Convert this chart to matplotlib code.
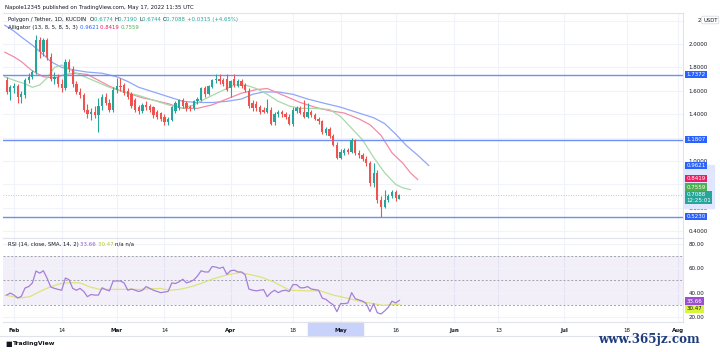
import numpy as np
import pandas as pd
import matplotlib
matplotlib.use("Agg")
import matplotlib.pyplot as plt
from matplotlib.patches import Rectangle
from matplotlib.transforms import blended_transform_factory

# --- daily candles MATIC/USDT (KuCoin) ---
dates = pd.date_range("2022-01-30", "2022-05-17", freq="D")
opens = [1.69, 1.59, 1.62, 1.64, 1.55, 1.56, 1.69, 1.72, 1.76, 2.03, 1.93, 2.03,
         1.89, 1.70, 1.72, 1.66, 1.62, 1.85, 1.79, 1.66, 1.59, 1.56, 1.44, 1.40,
         1.42, 1.39, 1.47, 1.55, 1.50, 1.44, 1.61, 1.64, 1.65, 1.60, 1.57, 1.52,
         1.46, 1.43, 1.48, 1.47, 1.46, 1.42, 1.41, 1.38, 1.33, 1.35, 1.43, 1.45,
         1.52, 1.50, 1.46, 1.45, 1.51, 1.52, 1.62, 1.57, 1.63, 1.69, 1.70, 1.69,
         1.70, 1.62, 1.70, 1.64, 1.68, 1.65, 1.60, 1.50, 1.49, 1.46, 1.44, 1.42,
         1.44, 1.33, 1.40, 1.42, 1.40, 1.38, 1.32, 1.43, 1.45, 1.42, 1.38, 1.42,
         1.39, 1.36, 1.34, 1.24, 1.27, 1.21, 1.14, 1.03, 1.07, 1.09, 1.08, 1.18,
         1.07, 1.05, 1.02, 0.98, 0.81, 0.90, 0.67, 0.61, 0.67, 0.70, 0.735, 0.6774]
highs = [1.72, 1.65, 1.67, 1.66, 1.60, 1.71, 1.75, 1.78, 2.08, 2.06, 2.05, 2.05,
         1.92, 1.76, 1.74, 1.70, 1.87, 1.87, 1.81, 1.68, 1.62, 1.58, 1.49, 1.45,
         1.47, 1.54, 1.57, 1.58, 1.53, 1.63, 1.71, 1.71, 1.67, 1.62, 1.59, 1.54,
         1.48, 1.50, 1.51, 1.49, 1.47, 1.44, 1.42, 1.40, 1.38, 1.47, 1.51, 1.53,
         1.54, 1.51, 1.48, 1.52, 1.55, 1.63, 1.64, 1.65, 1.70, 1.74, 1.74, 1.71,
         1.74, 1.69, 1.74, 1.70, 1.70, 1.67, 1.62, 1.52, 1.51, 1.48, 1.46, 1.53,
         1.46, 1.42, 1.44, 1.44, 1.42, 1.40, 1.46, 1.47, 1.47, 1.52, 1.50, 1.44,
         1.41, 1.38, 1.35, 1.29, 1.29, 1.23, 1.16, 1.10, 1.11, 1.11, 1.20, 1.19,
         1.09, 1.07, 1.04, 1.00, 0.98, 0.92, 0.70, 0.75, 0.72, 0.75, 0.75, 0.7190]
lows = [1.57, 1.52, 1.58, 1.50, 1.50, 1.54, 1.67, 1.70, 1.74, 1.88, 1.90, 1.86,
        1.68, 1.66, 1.63, 1.59, 1.61, 1.76, 1.63, 1.57, 1.54, 1.42, 1.37, 1.35,
        1.37, 1.25, 1.44, 1.48, 1.42, 1.42, 1.58, 1.60, 1.56, 1.53, 1.45, 1.42,
        1.40, 1.41, 1.44, 1.42, 1.37, 1.36, 1.34, 1.31, 1.31, 1.34, 1.41, 1.44,
        1.45, 1.43, 1.43, 1.44, 1.49, 1.51, 1.55, 1.56, 1.62, 1.67, 1.66, 1.64,
        1.60, 1.55, 1.63, 1.63, 1.62, 1.59, 1.45, 1.43, 1.43, 1.40, 1.41, 1.41,
        1.31, 1.31, 1.38, 1.38, 1.36, 1.31, 1.30, 1.41, 1.40, 1.37, 1.37, 1.38,
        1.35, 1.32, 1.23, 1.22, 1.20, 1.13, 1.02, 1.02, 1.05, 1.06, 1.07, 1.05,
        1.03, 1.00, 0.96, 0.79, 0.78, 0.64, 0.523, 0.60, 0.65, 0.68, 0.66, 0.6744]
closes = [1.59, 1.63, 1.64, 1.55, 1.57, 1.69, 1.72, 1.76, 2.03, 1.93, 2.03, 1.89,
          1.70, 1.72, 1.66, 1.62, 1.85, 1.79, 1.66, 1.59, 1.56, 1.44, 1.40, 1.42,
          1.39, 1.47, 1.55, 1.50, 1.44, 1.61, 1.64, 1.63, 1.58, 1.55, 1.47, 1.44,
          1.43, 1.48, 1.46, 1.44, 1.39, 1.38, 1.36, 1.33, 1.36, 1.46, 1.50, 1.52,
          1.47, 1.45, 1.45, 1.51, 1.53, 1.62, 1.57, 1.64, 1.69, 1.70, 1.68, 1.66,
          1.61, 1.68, 1.65, 1.68, 1.64, 1.61, 1.47, 1.45, 1.45, 1.42, 1.42, 1.45,
          1.32, 1.40, 1.42, 1.40, 1.38, 1.32, 1.44, 1.45, 1.41, 1.38, 1.42, 1.39,
          1.36, 1.34, 1.25, 1.27, 1.21, 1.14, 1.03, 1.08, 1.09, 1.08, 1.18, 1.07,
          1.05, 1.02, 0.98, 0.81, 0.90, 0.67, 0.61, 0.67, 0.70, 0.735, 0.68, 0.7088]

# Alligator lines (day offset from 2022-02-01, price)
jaw_day = [-2.5, 0, 2, 5, 8, 10, 13, 16, 20, 24, 28, 31, 34, 38, 42, 46, 50, 54, 58,
           62, 65, 68, 72, 76, 80, 85, 89, 94, 98, 101, 104, 107, 110, 113]
jaw_val = [2.16, 2.11, 2.06, 1.99, 1.91, 1.85, 1.80, 1.78, 1.76, 1.75, 1.72, 1.68,
           1.63, 1.59, 1.55, 1.51, 1.50, 1.50, 1.51, 1.53, 1.57, 1.59, 1.59, 1.57,
           1.53, 1.49, 1.46, 1.41, 1.37, 1.32, 1.23, 1.13, 1.05, 0.9621]
teeth_day = [-2.5, 0, 2, 5, 8, 11, 14, 17, 20, 23, 26, 29, 32, 35, 38, 42, 46, 50,
             54, 58, 62, 66, 69, 72, 75, 78, 82, 86, 90, 94, 97, 100, 103, 106, 108, 110]
teeth_val = [1.93, 1.89, 1.85, 1.77, 1.72, 1.71, 1.74, 1.75, 1.74, 1.69, 1.64, 1.60,
             1.57, 1.54, 1.52, 1.49, 1.45, 1.45, 1.48, 1.53, 1.58, 1.61, 1.62, 1.58,
             1.54, 1.50, 1.46, 1.43, 1.41, 1.36, 1.31, 1.22, 1.07, 0.98, 0.90, 0.8419]
lips_day = [-2.5, 0, 3, 5, 7, 9, 11, 13, 15, 17, 20, 23, 26, 30, 34, 38, 42, 46, 49,
            52, 56, 60, 63, 66, 69, 72, 75, 78, 82, 86, 89, 92, 95, 98, 101, 104, 106, 108]
lips_val = [1.72, 1.69, 1.66, 1.63, 1.65, 1.71, 1.80, 1.82, 1.79, 1.75, 1.71, 1.67,
            1.63, 1.59, 1.56, 1.52, 1.48, 1.45, 1.48, 1.53, 1.59, 1.65, 1.65, 1.62,
            1.57, 1.51, 1.47, 1.45, 1.45, 1.44, 1.38, 1.28, 1.18, 1.03, 0.90, 0.80,
            0.77, 0.7559]

# RSI (14), one value per candle, and its SMA at sampled days
rsi_val = [38, 39.7, 38, 35.6, 37, 43.8, 45, 48, 57.8, 56, 58, 52, 44.7, 43.5, 42.7,
           42, 52, 50.7, 43.5, 42, 43.5, 41, 36.7, 38.5, 38, 38, 44, 42.5, 41.5, 49.5,
           49.6, 49.6, 48, 42, 43, 42, 41, 42, 45, 43.5, 42, 41, 40, 40.5, 41, 48,
           47.5, 49, 51, 48, 49, 50.5, 53.7, 58, 57, 57, 61.5, 61, 60, 61, 55, 58,
           58.5, 57, 57, 54.6, 43, 42, 41.5, 42, 42.5, 36.7, 40, 42, 40, 41.5, 42, 41,
           46.6, 46.6, 44, 44, 45, 43, 42.5, 42, 35.5, 34.5, 32, 30, 24.4, 31, 31,
           31.5, 40, 35, 34, 33, 31, 24.4, 31, 23.5, 22.5, 25, 28, 33, 31.5, 33.66]
ma_day = [-2.5, 1.6, 4.3, 7.1, 9.8, 12.5, 15.3, 18, 20.7, 23.4, 28.9, 34.3, 39.8, 42.5,
          45.2, 48, 50.7, 54.2, 58, 61.6, 67.1, 70.6, 75.2, 79.9, 83.4, 87, 90.8,
          94.3, 97.9, 100.6, 103.3, 105.2]
ma_val = [38, 35.6, 36.7, 41, 44.7, 47.3, 48.3, 48, 44.7, 42.7, 42.7, 42.7, 43.5, 42,
          42.7, 44.7, 47.3, 51.3, 54.6, 56.6, 53, 49, 42, 41.5, 41.5, 38, 35.5, 32.8,
          31, 29.5, 30.3, 30.47]

levels = [1.7372, 1.1807, 0.5230]
price_ticks = [0.4, 0.6, 1.0, 1.4, 1.6, 1.8, 2.0]
grid_prices = [0.4, 0.6, 0.8, 1.0, 1.2, 1.4, 1.6, 1.8, 2.0, 2.2]
tick_dates = ["2022-02-01", "2022-02-14", "2022-03-01", "2022-03-14", "2022-04-01",
              "2022-04-18", "2022-05-01", "2022-05-16", "2022-06-01", "2022-06-13",
              "2022-07-01", "2022-07-18", "2022-08-01"]
tick_labels = ["Feb", "14", "Mar", "14", "Apr", "18", "May", "16", "Jun", "13",
               "Jul", "18", "Aug"]

UP, DOWN = "#26a69a", "#ef5350"
GRID = "#f0f3fa"
TXT = "#131722"
FS = 4.0

base = pd.Timestamp("2022-02-01")
x = np.array((dates - base).days, dtype=float)
o, h, l, c = map(np.array, (opens, highs, lows, closes))


def fx(px):
    return px / 720


def fy(py):
    return 1 - py / 352


fig = plt.figure(figsize=(7.2, 3.52), dpi=100)
fig.patch.set_facecolor("white")
ax = fig.add_axes([fx(3), fy(238), fx(683) - fx(3), fy(13) - fy(238)])
ax2 = fig.add_axes([fx(3), fy(322), fx(683) - fx(3), fy(238) - fy(322)], sharex=ax)

tick_x = [(pd.Timestamp(d) - base).days for d in tick_dates]
for a in (ax, ax2):
    for xv in tick_x:
        a.axvline(xv, color=GRID, lw=0.8, zorder=0)
    for s in a.spines.values():
        s.set_color("#e0e3eb")
        s.set_linewidth(0.8)
    a.spines["left"].set_visible(False)
ax.set_xlim(-3.0, 182.3)

# --- price panel ---
for p in grid_prices:
    ax.axhline(p, color=GRID, lw=0.8, zorder=0)
col = np.where(c >= o, UP, DOWN)
ax.vlines(x, l, h, colors=col, lw=0.8, zorder=3)
body = np.maximum(np.abs(c - o), 0.005)
ax.bar(x, body, bottom=np.minimum(o, c), width=0.62, color=col, zorder=4)

ax.plot(jaw_day, jaw_val, color="#8ea6fb", lw=0.9, zorder=2)
ax.plot(teeth_day, teeth_val, color="#f28ba6", lw=0.9, zorder=2)
ax.plot(lips_day, lips_val, color="#a9d9a8", lw=0.9, zorder=2)
for lv in levels:
    ax.axhline(lv, color="#6f8ff5", lw=1.0, zorder=2)
ax.axhline(closes[-1], color=UP, lw=0.6, ls=(0, (1, 2)), alpha=0.6, zorder=1)

ax.set_ylim(0.342, 2.265)
ax.yaxis.tick_right()
ax.set_yticks(price_ticks)
ax.set_yticklabels(["%.4f" % p for p in price_ticks])
ax.tick_params(axis="y", length=0, pad=4, labelsize=FS, labelcolor=TXT)
ax.tick_params(axis="x", length=0, labelbottom=False)

tr = blended_transform_factory(ax.transAxes, ax.transData)
ax.add_patch(Rectangle((1.0015, 0.595), 0.044, 0.375, transform=tr, color="#dfe6fd",
                       zorder=5, clip_on=False))
# right-axis price labels: (shown at, text, face colour)
boxes = [(1.7372, "1.7372", "#2962ff"), (1.1807, "1.1807", "#2962ff"),
         (0.9621, "0.9621", "#2962ff"), (0.848, "0.8419", "#e91e63"),
         (0.777, "0.7559", "#4caf50"), (0.5230, "0.5230", "#2962ff")]
for yv, s, fc in boxes:
    ax.text(1.005, yv, s, transform=tr, ha="left", va="center", fontsize=FS,
            color="white", zorder=10, clip_on=False,
            bbox=dict(boxstyle="square,pad=0.2", fc=fc, ec="none"))
ax.text(1.005, 0.688, "0.7088\n12:25:01", transform=tr, ha="left", va="center",
        fontsize=FS, color="white", zorder=10, clip_on=False,
        linespacing=1.1, bbox=dict(boxstyle="square,pad=0.2", fc="#26a69a", ec="none"))
fig.text(fx(698), fy(21), "2", fontsize=FS, color=TXT, va="center")
fig.text(fx(703), fy(20), "USDT", fontsize=3.8, color=TXT, va="center",
         bbox=dict(boxstyle="round,pad=0.25", fc="white", ec="#d1d4dc", lw=0.5))

# --- RSI panel ---
ax2.axhspan(30, 70, color="#7e57c2", alpha=0.09, lw=0, zorder=0)
for lv in (70, 50, 30):
    ax2.axhline(lv, color="#a0a3ab", lw=0.7, ls=(0, (2, 2)), zorder=1)
for lv in (20, 40, 60, 80):
    ax2.axhline(lv, color=GRID, lw=0.8, zorder=0)
ax2.plot(x, rsi_val, color="#a47fd8", lw=0.9, zorder=3)
ax2.plot(ma_day, ma_val, color="#dde37c", lw=0.9, zorder=2)
ax2.set_ylim(15.9, 84.9)
ax2.yaxis.tick_right()
ax2.set_yticks([20, 40, 60, 80])
ax2.set_yticklabels(["20.00", "40.00", "60.00", "80.00"])
ax2.tick_params(axis="y", length=0, pad=4, labelsize=FS, labelcolor=TXT)
tr2 = blended_transform_factory(ax2.transAxes, ax2.transData)
ax2.text(1.005, 33.0, "33.66", transform=tr2, ha="left", va="center",
         fontsize=FS, color="white", zorder=10, clip_on=False,
         bbox=dict(boxstyle="square,pad=0.25", fc="#9c4fd0", ec="none"))
ax2.text(1.005, 26.8, "30.47", transform=tr2, ha="left", va="center",
         fontsize=FS, color=TXT, zorder=10, clip_on=False,
         bbox=dict(boxstyle="square,pad=0.25", fc="#d7f53a", ec="none"))

ax2.set_xticks(tick_x)
ax2.set_xticklabels(tick_labels)
ax2.tick_params(axis="x", length=0, pad=4, labelsize=FS, labelcolor=TXT)
for t, s in zip(ax2.get_xticklabels(), tick_labels):
    if not s.isdigit():
        t.set_fontweight("bold")
trx = blended_transform_factory(ax2.transData, fig.transFigure)
ax2.add_patch(Rectangle((80.1, fy(336)), 15.0, fy(322) - fy(336), transform=trx,
                        color="#c9d2fb", zorder=0, clip_on=False))
fig.add_artist(plt.Line2D([0, fx(683)], [fy(336), fy(336)], color="#e0e3eb", lw=0.8))


def run_text(parts, px, py):
    # draw consecutive coloured pieces on one line
    for s, cc in parts:
        t = fig.text(fx(px), fy(py), s, fontsize=3.9, color=cc, va="center")
        fig.canvas.draw()
        px += t.get_window_extent().width


run_text([("Napole12345 published on TradingView.com, May 17, 2022 11:35 UTC", TXT)], 5, 7)
run_text([("Polygon / Tether, 1D, KUCOIN  ", TXT), ("O", TXT), ("0.6774 ", UP),
          ("H", TXT), ("0.7190 ", UP), ("L", TXT), ("0.6744 ", UP), ("C", TXT),
          ("0.7088 ", UP), ("+0.0315 (+4.65%)", UP)], 8, 19.5)
run_text([("Alligator (13, 8, 5, 8, 5, 3) ", TXT), ("0.9621 ", "#2962ff"),
          ("0.8419 ", "#e91e63"), ("0.7559", "#4caf50")], 8, 27.5)
run_text([("RSI (14, close, SMA, 14, 2) ", TXT), ("33.66 ", "#9c4fd0"),
          ("30.47 ", "#b9c62a"), ("n/a n/a", TXT)], 8, 244.5)

fig.text(fx(5), fy(344), "\u25a0", fontsize=5, color=TXT, va="center")
fig.text(fx(13), fy(344), "TradingView", fontsize=4.4, color=TXT, va="center",
         fontweight="bold")
fig.text(fx(598), fy(339), "www.365jz.com", fontsize=8.6, color="#1f3d7a",
         va="center", family="DejaVu Serif", fontweight="bold")

fig.savefig("out.png", dpi=100, facecolor="white")
